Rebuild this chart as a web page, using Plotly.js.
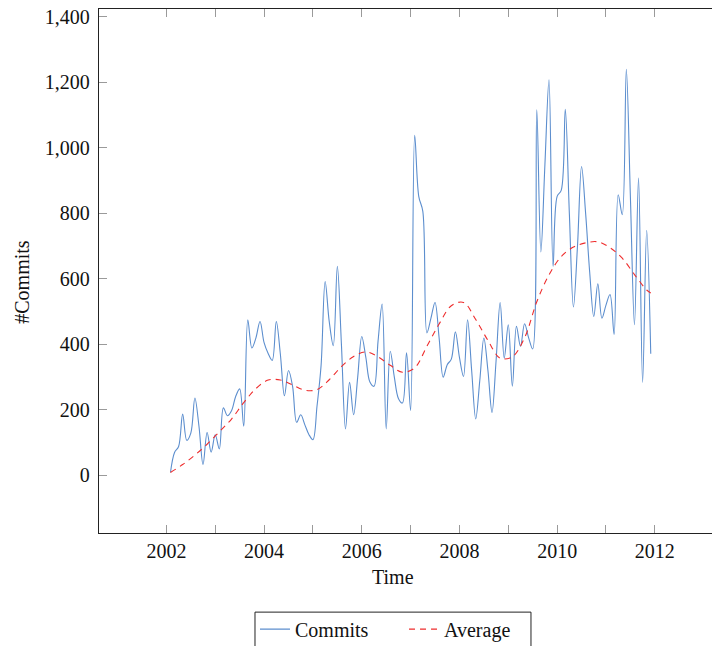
<!DOCTYPE html>
<html>
<head>
<meta charset="utf-8">
<script src="https://cdn.plot.ly/plotly-3.0.1.min.js"></script>
<style>
  html, body { margin: 0; padding: 0; overflow: hidden; background: #fff; }
  #chart { width: 730px; height: 646px; }
</style>
</head>
<body>
<div id="chart"></div>
<script>
// Monthly commit counts, starting February 2002 (month index 1 = Feb 2002)
const firstYear = 2002;
const commits = [
  9, 70, 88, 187, 107, 129, 236, 150, 33, 131, 71,
  124, 81, 206, 182, 197, 240, 264, 150, 475, 389, 420, 470,
  405, 372, 351, 470, 370, 243, 320, 272, 162, 185, 155, 125,
  109, 211, 335, 592, 470, 396, 638, 400, 142, 284, 185, 300,
  424, 360, 285, 272, 410, 523, 142, 379, 300, 235, 221, 374,
  198, 1038, 852, 806, 435, 480, 528, 420, 300, 338, 355, 438,
  360, 302, 475, 320, 172, 290, 419, 320, 192, 350, 528, 358,
  460, 272, 455, 394, 463, 420, 386, 1116, 682, 950, 1208, 638,
  852, 870, 1118, 800, 514, 700, 943, 800, 620, 485, 585, 480,
  520, 552, 430, 857, 796, 1240, 850, 460, 908, 284, 748, 371
];

// Smoothed average, sampled every third month (same month index)
const avgMonth = [1, 4, 7, 10, 13, 16, 19, 22, 25, 28, 31, 34, 37, 40, 43, 46, 49, 52, 55, 58,
                  61, 64, 67, 70, 73, 76, 79, 82, 85, 88, 91, 94, 97, 100, 103, 106, 109, 112, 115, 118, 119];
const avgValue = [9, 33, 62, 95, 133, 172, 222, 265, 291, 291, 276, 260, 262, 292, 332, 363, 377, 362, 336, 315,
                  328, 394, 462, 518, 528, 476, 412, 358, 362, 420, 530, 612, 668, 697, 710, 713, 695, 663, 613, 566, 557];

const yearTicks = [2002, 2003, 2004, 2005, 2006, 2007, 2008, 2009, 2010, 2011, 2012];
const yearLabels = ['2002', '', '2004', '', '2006', '', '2008', '', '2010', '', '2012'];
const countTicks = [0, 200, 400, 600, 800, 1000, 1200, 1400];

const commitX = commits.map((_, i) => firstYear + (i + 1) / 12);
const avgX = avgMonth.map(m => firstYear + m / 12);

const serif = 'Liberation Serif, Times New Roman, serif';
const textFont = { family: serif, size: 20, color: '#111' };

const traces = [
  {
    x: commitX, y: commits, name: 'Commits', type: 'scatter', mode: 'lines',
    legend: 'legend',
    line: { color: 'rgb(92,142,206)', width: 1.1, shape: 'spline', smoothing: 1 }
  },
  {
    x: avgX, y: avgValue, name: 'Average', type: 'scatter', mode: 'lines',
    legend: 'legend2',
    line: { color: 'rgb(238,45,45)', width: 1.1, dash: '6px,5px', shape: 'spline', smoothing: 1 }
  }
];

const axisCommon = {
  showgrid: false, zeroline: false,
  showline: true, linecolor: '#222', linewidth: 1.2, mirror: 'allticks',
  ticks: 'inside', ticklen: 8, tickwidth: 1, tickcolor: '#9a9a9a',
  tickfont: textFont
};

// plot area spans 622 x 524.5 px; legend entries sit below it inside one framed box
const legendCommon = {
  orientation: 'h', xanchor: 'left', yanchor: 'top', y: -0.1462,
  borderwidth: 0, bgcolor: 'rgba(0,0,0,0)', font: textFont
};

const layout = {
  width: 730, height: 646,
  margin: { l: 99, r: 9, t: 9, b: 112.5, autoexpand: false },
  paper_bgcolor: '#fff', plot_bgcolor: '#fff',
  font: textFont,
  xaxis: Object.assign({}, axisCommon, {
    range: [2000.62, 2013.355],
    tickmode: 'array', tickvals: yearTicks, ticktext: yearLabels,
    ticklabelstandoff: 0
  }),
  yaxis: Object.assign({}, axisCommon, {
    range: [-176, 1424],
    tickmode: 'array', tickvals: countTicks, tickformat: ',d',
    ticklabelstandoff: 4
  }),
  showlegend: true,
  legend: Object.assign({}, legendCommon, { x: 0.2508 }),
  legend2: Object.assign({}, legendCommon, { x: 0.4904 }),
  shapes: [
    { type: 'rect', xref: 'paper', yref: 'paper',
      x0: 0.2508, x1: 0.6945, y0: -0.151, y1: -0.23,
      line: { color: '#222', width: 1 }, fillcolor: 'rgba(0,0,0,0)', layer: 'above' }
  ],
  annotations: [
    { text: 'Time', xref: 'paper', yref: 'paper', x: 0.4727, y: -0.0848,
      xanchor: 'center', yanchor: 'middle', showarrow: false, font: textFont },
    { text: '#Commits', xref: 'paper', yref: 'paper', x: -0.1238, y: 0.4795,
      xanchor: 'center', yanchor: 'middle', showarrow: false, textangle: -90, font: textFont }
  ]
};

Plotly.newPlot('chart', traces, layout, { staticPlot: true, displayModeBar: false });
</script>
</body>
</html>
